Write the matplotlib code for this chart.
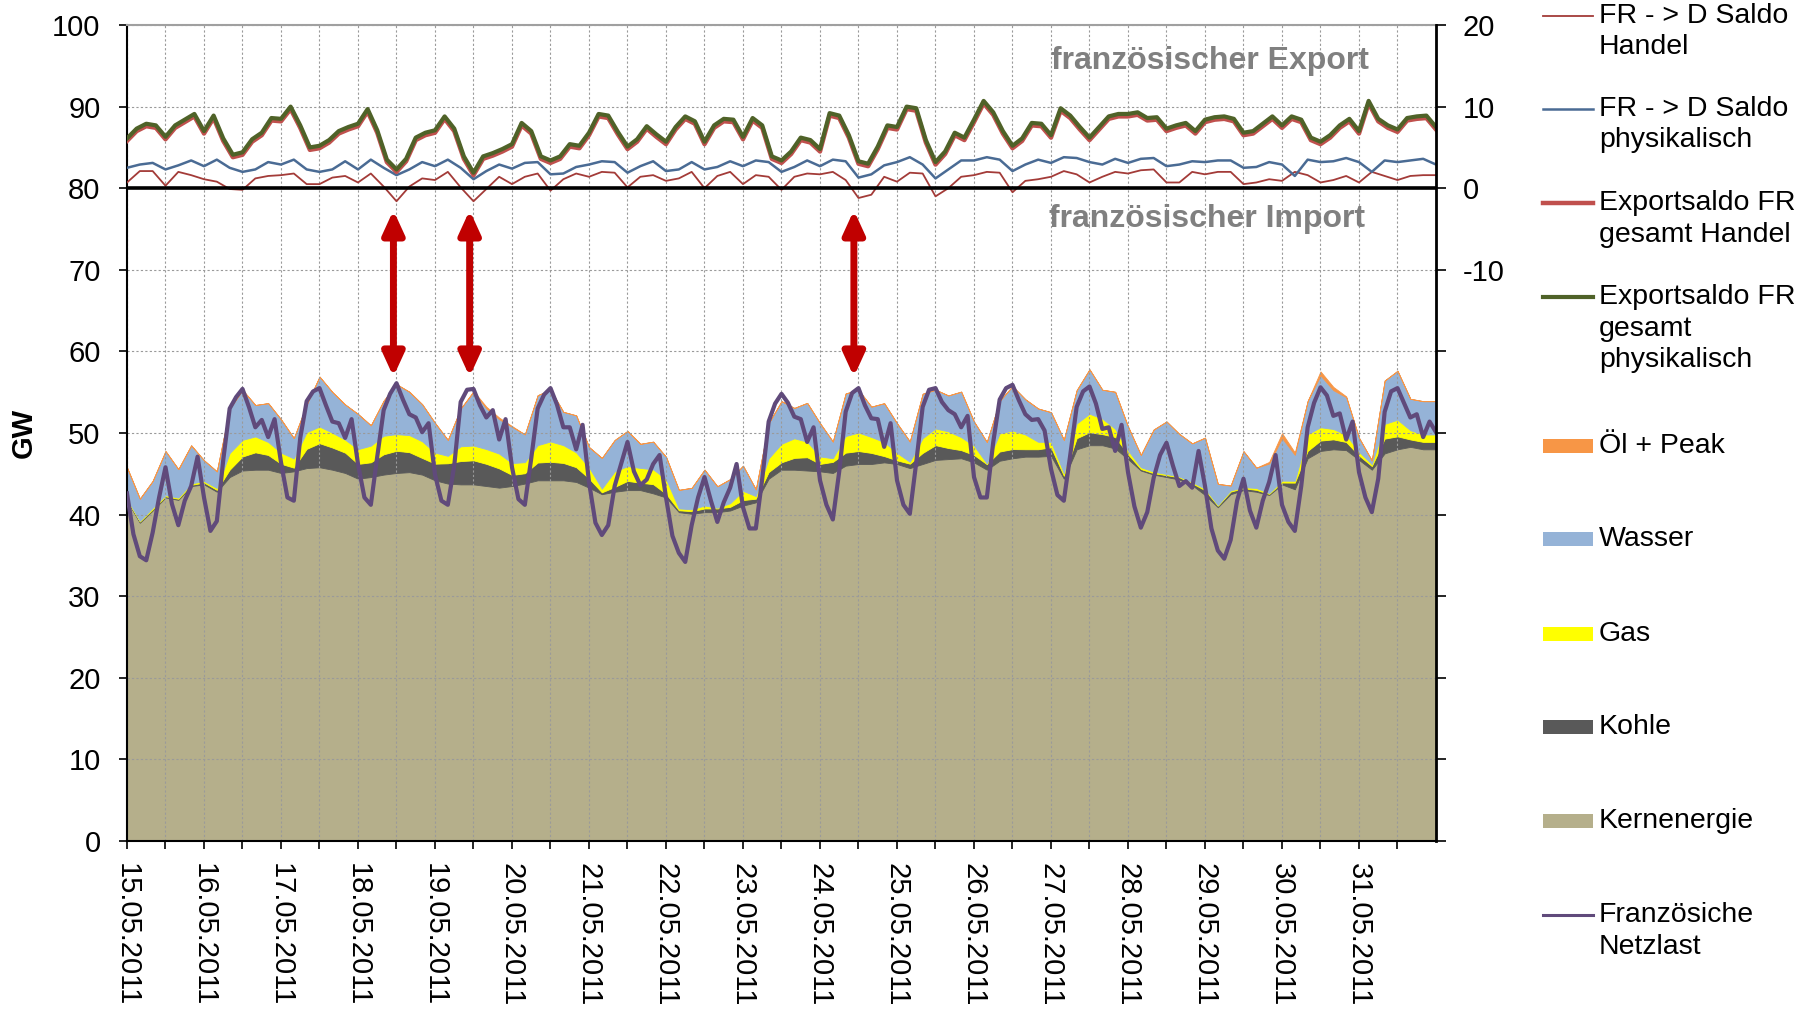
import numpy as np
import matplotlib
matplotlib.use('Agg')
import matplotlib.pyplot as plt
from matplotlib.lines import Line2D
from matplotlib.patches import Rectangle

plt.rcParams['font.family'] = ['Liberation Sans', 'DejaVu Sans']
plt.rcParams['axes.unicode_minus'] = False

# Datumsachse (Tage ab 15.05.2011 00:00)
dates = ['15.05.2011', '16.05.2011', '17.05.2011', '18.05.2011', '19.05.2011',
         '20.05.2011', '21.05.2011', '22.05.2011', '23.05.2011', '24.05.2011',
         '25.05.2011', '26.05.2011', '27.05.2011', '28.05.2011', '29.05.2011',
         '30.05.2011', '31.05.2011']

# Französische Netzlast in GW, 2-stündlich
netzlast = [42.6, 37.6, 34.9, 34.4, 37.8, 42.1, 45.8, 41.3, 38.7, 41.7, 43.5, 47.1,
            42.1, 38.0, 39.2, 46.7, 53.0, 54.4, 55.4, 53.2, 50.7, 51.6, 49.5, 51.7,
            46.4, 42.1, 41.7, 49.4, 53.9, 55.1, 55.5, 53.4, 51.4, 51.2, 49.4, 51.7,
            46.2, 42.1, 41.2, 47.1, 52.8, 54.8, 56.1, 54.1, 52.3, 51.9, 50.1, 51.2,
            44.9, 41.7, 41.2, 46.0, 53.8, 55.3, 55.4, 53.4, 51.9, 52.8, 49.2, 51.7,
            45.8, 41.9, 41.2, 46.9, 53.0, 54.7, 55.5, 53.5, 50.7, 50.7, 48.0, 51.0,
            44.0, 39.0, 37.5, 38.7, 43.5, 46.2, 48.9, 45.3, 43.6, 44.3, 46.2, 47.3,
            42.1, 37.4, 35.3, 34.2, 38.7, 42.1, 44.6, 41.7, 39.1, 41.5, 43.3, 46.2,
            40.9, 38.3, 38.3, 44.4, 51.4, 53.6, 54.8, 53.7, 52.0, 51.7, 48.9, 50.7,
            44.2, 41.2, 39.4, 45.3, 52.6, 54.9, 55.5, 53.4, 51.8, 51.7, 48.3, 51.2,
            44.2, 41.2, 40.1, 46.4, 53.2, 55.3, 55.5, 53.8, 52.8, 52.3, 50.7, 52.1,
            44.6, 42.1, 42.1, 48.9, 54.1, 55.5, 55.9, 54.0, 52.3, 51.6, 51.7, 50.3,
            45.6, 42.4, 41.7, 47.3, 53.2, 55.1, 55.7, 53.6, 50.5, 50.7, 47.8, 51.0,
            45.2, 41.0, 38.4, 40.3, 44.5, 47.3, 48.8, 46.0, 43.5, 44.1, 43.3, 47.8,
            43.5, 38.3, 35.6, 34.6, 36.9, 41.7, 44.4, 40.5, 38.4, 41.7, 44.0, 47.3,
            41.2, 39.1, 38.0, 43.5, 50.7, 53.7, 55.6, 54.6, 52.1, 52.4, 49.2, 51.4,
            45.2, 42.1, 40.3, 44.4, 52.6, 55.1, 55.5, 53.7, 51.9, 52.3, 49.5, 51.4,
            50.1]

# Erzeugung in GW, 4-stündlich
kern = [41.7, 39.0, 40.5, 42.1, 41.8, 43.5,
        43.7, 42.8, 44.6, 45.4, 45.5, 45.5,
        45.1, 45.3, 45.7, 45.8, 45.5, 45.1,
        44.4, 44.6, 44.9, 45.1, 45.2, 44.9,
        44.2, 43.8, 43.7, 43.7, 43.5, 43.3,
        43.5, 43.8, 44.2, 44.2, 44.2, 44.0,
        43.3, 42.5, 42.8, 43.0, 43.0, 42.6,
        42.1, 40.3, 40.1, 40.3, 40.3, 40.5,
        41.1, 41.5, 44.4, 45.5, 45.5, 45.4,
        45.3, 45.1, 46.0, 46.2, 46.2, 46.4,
        46.2, 45.7, 46.2, 46.7, 46.8, 46.9,
        46.4, 45.5, 46.6, 46.9, 47.1, 47.1,
        47.2, 44.4, 48.0, 48.5, 48.5, 48.1,
        46.8, 45.4, 44.9, 44.6, 44.3, 43.6,
        42.4, 40.9, 42.5, 43.0, 42.8, 42.4,
        43.7, 43.1, 46.9, 47.8, 48.0, 47.9,
        46.7, 45.5, 47.5, 48.0, 48.3, 48.0,
        48.0]
kohle = [0.09, 0.14, 0.14, 0.14, 0.14, 0.14,
         0.23, 0.23, 0.91, 1.72, 2.13, 1.81,
         1.13, 0.45, 2.36, 2.95, 2.72, 2.49,
         1.81, 1.81, 2.49, 2.72, 2.45, 2.04,
         2.04, 2.49, 2.86, 2.95, 2.72, 2.36,
         1.36, 1.27, 2.18, 2.27, 2.13, 1.81,
         1.13, 0.23, 0.59, 1.13, 0.91, 1.13,
         0.45, 0.23, 0.32, 0.45, 0.45, 0.45,
         0.68, 0.45, 0.82, 0.91, 1.45, 1.63,
         0.91, 1.36, 1.59, 1.59, 1.36, 0.77,
         0.45, 0.54, 1.36, 1.81, 1.36, 1.00,
         0.91, 0.68, 1.13, 1.13, 0.91, 0.91,
         1.04, 0.36, 1.36, 1.59, 1.36, 1.41,
         0.59, 0.18, 0.18, 0.23, 0.27, 0.23,
         0.59, 0.18, 0.32, 0.23, 0.23, 0.14,
         0.23, 0.82, 0.91, 1.27, 1.22, 1.00,
         0.54, 0.45, 1.81, 1.59, 0.91, 0.91,
         0.91]
gas = [0.14, 0.09, 0.18, 0.14, 0.14, 0.18,
       0.18, 0.23, 2.04, 2.04, 1.95, 1.59,
       1.36, 1.13, 2.04, 2.04, 1.81, 1.59,
       1.81, 2.04, 2.27, 2.04, 2.09, 2.04,
       1.36, 0.91, 1.81, 1.81, 1.81, 1.81,
       1.45, 1.36, 2.13, 2.49, 2.18, 1.81,
       1.36, 0.45, 1.90, 1.81, 1.81, 1.81,
       1.81, 0.23, 0.23, 0.36, 0.09, 0.45,
       1.13, 0.32, 1.68, 2.27, 2.40, 1.90,
       0.91, 0.45, 2.04, 2.27, 1.95, 1.72,
       0.91, 0.23, 1.81, 2.04, 2.04, 1.59,
       1.13, 0.09, 2.22, 2.27, 1.81, 0.91,
       0.68, 0.32, 1.81, 2.27, 1.90, 1.00,
       0.45, 0.23, 0.18, 0.14, 0.09, 0.14,
       0.18, 0.09, 0.14, 0.14, 0.23, 0.09,
       0.23, 0.23, 2.04, 1.63, 1.27, 0.86,
       0.45, 0.23, 1.81, 2.04, 1.13, 0.91,
       0.91]
wasser = [3.85, 2.72, 3.31, 5.40, 3.49, 4.67,
          2.54, 2.04, 5.44, 6.12, 3.85, 4.76,
          4.08, 2.49, 3.40, 6.12, 4.99, 4.31,
          4.31, 2.49, 4.31, 6.12, 5.31, 4.54,
          3.63, 1.95, 4.63, 6.58, 4.99, 4.22,
          4.44, 3.40, 6.12, 6.35, 4.08, 4.54,
          2.49, 3.76, 3.85, 4.31, 2.95, 3.40,
          2.72, 2.27, 2.63, 4.40, 2.63, 2.95,
          3.08, 0.82, 4.31, 5.22, 3.72, 4.76,
          4.08, 2.04, 5.22, 5.22, 3.72, 4.76,
          3.63, 2.49, 5.44, 4.76, 4.40, 5.58,
          2.95, 2.63, 3.99, 5.44, 4.31, 4.08,
          3.63, 4.08, 4.08, 5.44, 3.54, 4.54,
          2.95, 1.50, 5.17, 6.44, 5.22, 4.76,
          6.26, 2.59, 0.60, 4.40, 2.49, 3.63,
          5.22, 3.17, 4.08, 6.35, 4.76, 4.63,
          1.72, 0.45, 5.31, 5.99, 3.85, 4.08,
          4.08]
oel = [0.0, 0.0, 0.0, 0.0, 0.0, 0.0,
       0.0, 0.0, 0.0, 0.0, 0.0, 0.0,
       0.0, 0.0, 0.0, 0.0, 0.0, 0.0,
       0.0, 0.0, 0.0, 0.0, 0.0, 0.0,
       0.0, 0.0, 0.0, 0.1, 0.2, 0.2,
       0.1, 0.0, 0.0, 0.0, 0.0, 0.0,
       0.0, 0.0, 0.0, 0.0, 0.0, 0.0,
       0.0, 0.0, 0.0, 0.0, 0.0, 0.0,
       0.0, 0.0, 0.0, 0.0, 0.0, 0.0,
       0.0, 0.0, 0.0, 0.0, 0.0, 0.0,
       0.0, 0.0, 0.0, 0.0, 0.0, 0.0,
       0.0, 0.0, 0.0, 0.0, 0.0, 0.0,
       0.0, 0.0, 0.0, 0.0, 0.0, 0.0,
       0.0, 0.0, 0.0, 0.0, 0.0, 0.0,
       0.0, 0.0, 0.0, 0.0, 0.0, 0.2,
       0.6, 0.3, 0.0, 0.5, 0.4, 0.1,
       0.0, 0.0, 0.0, 0.0, 0.0, 0.0,
       0.0]

# Exportsalden in GW (rechte Achse), 3-stündlich
export_phys = [6.1, 7.3, 7.9, 7.7, 6.3, 7.7, 8.4, 9.1,
               7.0, 8.9, 6.1, 4.1, 4.4, 6.0, 6.8, 8.6,
               8.5, 10.0, 7.7, 5.0, 5.2, 5.9, 7.0, 7.5,
               7.9, 9.7, 7.1, 3.5, 2.3, 3.6, 6.2, 6.8,
               7.1, 8.8, 7.3, 3.9, 1.9, 3.9, 4.3, 4.8,
               5.4, 8.0, 7.0, 3.9, 3.4, 3.9, 5.4, 5.2,
               6.8, 9.1, 8.9, 6.9, 5.1, 6.0, 7.6, 6.6,
               5.7, 7.5, 8.8, 8.2, 5.7, 7.7, 8.5, 8.4,
               6.3, 8.6, 7.7, 3.9, 3.4, 4.5, 6.2, 5.9,
               4.8, 9.2, 8.9, 6.5, 3.3, 3.0, 5.1, 7.7,
               7.5, 10.0, 9.8, 5.9, 3.2, 4.5, 6.8, 6.2,
               8.4, 10.7, 9.3, 7.0, 5.2, 6.1, 8.0, 7.9,
               6.5, 9.8, 8.9, 7.5, 6.2, 7.5, 8.8, 9.1,
               9.1, 9.3, 8.6, 8.7, 7.3, 7.7, 8.0, 7.0,
               8.4, 8.7, 8.8, 8.5, 6.8, 7.0, 7.9, 8.8,
               7.7, 8.8, 8.4, 6.2, 5.7, 6.5, 7.7, 8.5,
               7.0, 10.7, 8.5, 7.7, 7.2, 8.6, 8.8, 8.9,
               7.5]
export_handel = [5.8, 7.0, 7.6, 7.4, 6.0, 7.4, 8.1, 8.8,
                 6.7, 8.6, 5.8, 3.8, 4.1, 5.7, 6.5, 8.3,
                 8.2, 9.7, 7.4, 4.7, 4.9, 5.6, 6.7, 7.2,
                 7.6, 9.4, 6.8, 3.2, 2.0, 3.3, 5.9, 6.5,
                 6.8, 8.5, 7.0, 3.6, 1.6, 3.6, 4.0, 4.5,
                 5.1, 7.7, 6.7, 3.6, 3.1, 3.6, 5.1, 4.9,
                 6.5, 8.8, 8.6, 6.6, 4.8, 5.7, 7.3, 6.3,
                 5.4, 7.2, 8.5, 7.9, 5.4, 7.4, 8.2, 8.1,
                 6.0, 8.3, 7.4, 3.6, 3.1, 4.2, 5.9, 5.6,
                 4.5, 8.9, 8.6, 6.2, 3.0, 2.7, 4.8, 7.4,
                 7.2, 9.7, 9.5, 5.6, 2.9, 4.2, 6.5, 5.9,
                 8.1, 10.4, 9.0, 6.7, 4.9, 5.8, 7.7, 7.6,
                 6.2, 9.5, 8.6, 7.2, 5.9, 7.2, 8.5, 8.8,
                 8.8, 9.0, 8.3, 8.4, 7.0, 7.4, 7.7, 6.7,
                 8.1, 8.4, 8.5, 8.2, 6.5, 6.7, 7.6, 8.5,
                 7.4, 8.5, 8.1, 5.9, 5.4, 6.2, 7.4, 8.2,
                 6.7, 10.4, 8.2, 7.4, 6.9, 8.3, 8.5, 8.6,
                 7.2]

# Saldo FR -> D in GW (rechte Achse), 4-stündlich
frd_phys = [2.5, 2.9, 3.1, 2.3, 2.8, 3.4,
            2.7, 3.5, 2.5, 2.0, 2.3, 3.2,
            2.9, 3.5, 2.3, 2.0, 2.3, 3.3,
            2.3, 3.5, 2.5, 1.6, 2.3, 3.2,
            2.7, 3.5, 2.5, 1.1, 2.1, 2.9,
            2.4, 3.1, 3.2, 1.7, 1.8, 2.6,
            2.9, 3.3, 3.2, 1.9, 2.7, 3.3,
            2.1, 2.3, 3.2, 2.3, 2.6, 3.3,
            2.7, 3.4, 3.2, 2.0, 2.6, 3.4,
            2.7, 3.5, 3.3, 1.3, 1.7, 2.8,
            3.2, 3.8, 2.9, 1.2, 2.3, 3.4,
            3.4, 3.8, 3.5, 2.1, 2.9, 3.5,
            3.1, 3.8, 3.7, 3.2, 2.9, 3.6,
            3.1, 3.6, 3.7, 2.7, 2.9, 3.3,
            3.2, 3.4, 3.4, 2.5, 2.6, 3.2,
            2.9, 1.5, 3.5, 3.2, 3.3, 3.7,
            3.2, 2.0, 3.4, 3.2, 3.4, 3.6,
            2.9]
frd_handel = [0.7, 2.1, 2.1, 0.3, 2.0, 1.6,
              1.1, 0.8, -0.1, -0.2, 1.2, 1.5,
              1.6, 1.8, 0.5, 0.5, 1.3, 1.5,
              0.7, 1.8, 0.2, -1.6, 0.2, 1.2,
              1.0, 2.0, 0.1, -1.6, -0.1, 1.4,
              0.5, 1.4, 1.8, -0.3, 1.1, 1.8,
              1.4, 2.0, 1.9, 0.1, 1.4, 1.6,
              0.9, 1.2, 2.0, 0.0, 1.5, 2.0,
              0.5, 1.6, 1.4, -0.2, 1.4, 1.8,
              1.7, 2.0, 1.0, -1.2, -0.8, 1.4,
              0.8, 1.9, 1.8, -1.0, 0.0, 1.4,
              1.6, 2.0, 1.9, -0.5, 0.9, 1.1,
              1.4, 2.1, 1.7, 0.7, 1.4, 2.0,
              1.8, 2.2, 2.3, 0.7, 0.7, 2.0,
              1.7, 2.0, 2.0, 0.5, 0.7, 1.1,
              0.9, 2.0, 1.6, 0.7, 1.0, 1.5,
              0.7, 2.0, 1.5, 1.0, 1.5, 1.6,
              1.6]

# Pfeile: Tage und GW-Bereich
arrow_days = [3.46, 4.45, 9.44]
arrow_span = (56.9, 77.3)

t2 = np.arange(len(netzlast)) / 12.0
t3 = np.arange(len(export_phys)) / 8.0
t4 = np.arange(len(kern)) / 6.0

c_kern = '#B5AF8B'
c_kohle = '#595959'
c_gas = '#FFFF00'
c_wasser = '#95B3D7'
c_oel = '#F79646'
c_netz = '#604A7B'
c_frd_h = '#A33B38'
c_frd_p = '#4A6B94'
c_exp_h = '#C0504D'
c_exp_p = '#4F6228'

W, H = 1806, 1011
fig = plt.figure(figsize=(W / 100, H / 100), dpi=100)
ax = fig.add_axes([127 / W, (H - 841) / H, (1436 - 127) / W, (841 - 25) / H])

# gestapelte Flächen
layers = [kern, kohle, gas, wasser, oel]
colors = [c_kern, c_kohle, c_gas, c_wasser, c_oel]
base = np.zeros(len(t4))
for vals, col in zip(layers, colors):
    top = base + np.array(vals)
    ax.fill_between(t4, base, top, color=col, lw=0.6, edgecolor=col, zorder=1)
    base = top

ax.plot(t2, netzlast, color=c_netz, lw=3.0, zorder=3, solid_joinstyle='round')

ax.set_xlim(0, 17)
ax.set_ylim(0, 100)
ax.set_yticks(np.arange(0, 101, 10))
ax.set_xticks(np.arange(len(dates)))
ax.set_xticklabels(dates, rotation=-90, fontsize=21, va='top', ha='center')
ax.set_xticks(np.arange(0.5, 17, 1), minor=True)
ax.tick_params(axis='x', which='both', direction='out', length=6, width=1.2, pad=10)
ax.tick_params(axis='y', direction='out', length=6, width=1.2, pad=13, labelsize=21)
ax.set_axisbelow('line')
ax.grid(True, which='both', color='#9A9A9A', linestyle=(0, (2, 2)), linewidth=0.8)
ax.set_ylabel('GW', fontsize=21, fontweight='bold', va='center')
ax.yaxis.set_label_coords(-0.079, 0.5)
for s in ['left', 'bottom']:
    ax.spines[s].set_linewidth(1.5)
ax.spines['top'].set_color('#A0A0A0')
ax.spines['top'].set_linewidth(1.5)

ax.text(14.07, 95.6, 'französischer Export', ha='center', va='center',
        fontsize=23, fontweight='bold', color='#808080', zorder=2)
ax.text(14.03, 76.2, 'französischer Import', ha='center', va='center',
        fontsize=23, fontweight='bold', color='#808080', zorder=2)

for xd in arrow_days:
    ax.annotate('', xy=(xd, arrow_span[0]), xytext=(xd, arrow_span[1]),
                arrowprops=dict(arrowstyle='<|-|>,head_width=0.32,head_length=0.7',
                                mutation_scale=20, color='#C00000', lw=5,
                                shrinkA=0, shrinkB=0), zorder=4)

# rechte Achse
ax2 = ax.twinx()
ax2.set_ylim(-80, 20)
ax2.plot(t4, frd_handel, color=c_frd_h, lw=1.3, zorder=2)
ax2.plot(t4, frd_phys, color=c_frd_p, lw=1.8, zorder=2)
ax2.plot(t3, export_handel, color=c_exp_h, lw=3.2, zorder=2)
ax2.plot(t3, export_phys, color=c_exp_p, lw=3.0, zorder=2)
ax2.axhline(0, color='black', lw=2.6, zorder=3)
ax2.set_yticks(np.arange(-80, 21, 10))
ax2.set_yticklabels(['', '', '', '', '', '', '', '-10', '0', '10', '20'])
ax2.tick_params(axis='y', direction='out', length=7, width=1.2, pad=12, labelsize=21)
for s in ['left', 'top', 'bottom']:
    ax2.spines[s].set_visible(False)
ax2.spines['right'].set_linewidth(2)

# Legende
leg_labels = ['FR - > D Saldo\nHandel', 'FR - > D Saldo\nphysikalisch',
              'Exportsaldo FR\ngesamt Handel', 'Exportsaldo FR\ngesamt\nphysikalisch',
              'Öl + Peak', 'Wasser', 'Gas', 'Kohle', 'Kernenergie',
              'Französiche\nNetzlast']
leg_kind = ['line', 'line', 'line', 'line', 'box', 'box', 'box', 'box', 'box', 'line']
leg_colors = [c_frd_h, c_frd_p, c_exp_h, c_exp_p, c_oel, c_wasser, c_gas,
              c_kohle, c_kern, c_netz]
leg_lw = [1.3, 1.8, 3.2, 3.0, 0, 0, 0, 0, 0, 2.2]
leg_y = [16, 109, 203, 297, 446, 539, 634, 727, 821, 915]

x0, x1, xt = 1543, 1593, 1599
for lab, kind, col, lw, y in zip(leg_labels, leg_kind, leg_colors, leg_lw, leg_y):
    if kind == 'line':
        fig.add_artist(Line2D([x0 / W, x1 / W], [1 - y / H, 1 - y / H],
                              color=col, lw=lw, transform=fig.transFigure))
    else:
        fig.add_artist(Rectangle((x0 / W, 1 - (y + 7) / H), (x1 - x0) / W, 14 / H,
                                 facecolor=col, edgecolor='none',
                                 transform=fig.transFigure))
    for i, line in enumerate(lab.split('\n')):
        fig.text(xt / W, 1 - (y + i * 31.5) / H, line, fontsize=20.5,
                 ha='left', va='center')

fig.savefig('out.png', dpi=100)
